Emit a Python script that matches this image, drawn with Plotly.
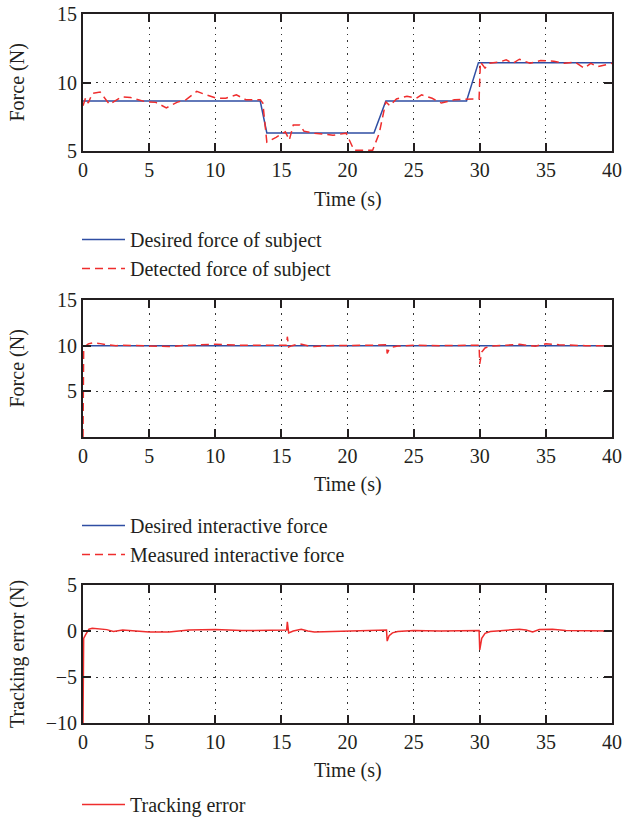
import plotly.graph_objects as go

# ---- data -------------------------------------------------------------
# Panel 1: desired vs detected force of subject
t_desired_subject = [0, 13.4, 13.9, 22.0, 22.9, 29.0, 29.9, 40]
f_desired_subject = [8.65, 8.65, 6.32, 6.32, 8.65, 8.65, 11.45, 11.45]

t_detected_subject = [0, 0.2, 0.4, 0.7, 1.3, 2.0, 2.9, 3.6, 4.7, 5.5, 6.3, 7.1, 7.8,
                      8.6, 9.3, 10.1, 10.8, 11.6, 12.3, 13.4, 13.6, 13.9, 14.6, 15.3,
                      15.6, 15.9, 16.4, 16.7, 17.5, 18.9, 19.9, 20.5, 21.9, 22.4, 22.9,
                      23.2, 23.7, 24.5, 25.2, 25.6, 26.4, 27.1, 28.1, 29.1, 29.95, 30.05,
                      30.4, 30.7, 31.5, 32.0, 32.5, 33.0, 33.8, 34.6, 35.6, 36.4, 37.2,
                      37.9, 38.4, 38.9, 39.6, 40]
f_detected_subject = [8.3, 8.9, 8.5, 9.2, 9.3, 8.4, 8.95, 8.9, 8.6, 8.55, 8.15, 8.55, 8.75,
                      9.35, 9.1, 8.85, 8.85, 9.1, 8.75, 8.75, 8.5, 5.65, 6.0, 6.4,
                      5.8, 6.9, 6.9, 6.45, 6.3, 6.15, 6.3, 5.05, 5.05, 6.3, 8.6,
                      8.3, 8.8, 9.0, 8.85, 9.1, 8.85, 8.5, 8.75, 8.75, 8.8, 11.5,
                      11.05, 11.4, 11.5, 11.65, 11.4, 11.7, 11.4, 11.6, 11.55, 11.4, 11.5,
                      11.05, 11.4, 11.15, 11.3, 11.4]

# Panel 2: desired vs measured interactive force
t_desired_inter = [0, 40]
f_desired_inter = [10, 10]

t_measured_inter = [0, 0.05, 0.15, 0.4, 0.7, 1.2, 1.8, 2.5, 3.0, 4.0, 5.0, 6.5, 8.0,
                    10.0, 12.0, 15.4, 15.45, 15.55, 15.8, 16.4, 17.0, 17.5, 18.5, 20.0,
                    22.0, 22.95, 23.0, 23.15, 23.4, 23.8, 25.0, 27.0, 29.95, 30.0, 30.15,
                    30.4, 30.8, 32.0, 33.0, 33.8, 34.2, 35.0, 36.0, 38.0, 40.0]
f_measured_inter = [0, 9.6, 9.9, 10.2, 10.3, 10.25, 10.1, 10.0, 10.05, 10.0, 9.9, 9.9, 10.05,
                    10.15, 10.05, 10.05, 10.98, 9.85, 10.0, 10.2, 10.0, 9.9, 10.0, 10.0,
                    10.05, 10.1, 9.15, 9.6, 9.85, 9.95, 10.05, 10.0, 10.05, 8.0, 9.3,
                    9.75, 9.95, 10.05, 10.15, 10.0, 9.95, 10.2, 10.1, 10.0, 10.0]

# Panel 3: tracking error
t_error = [0, 0.05, 0.2, 0.45, 0.7, 1.2, 1.8, 2.3, 3.0, 4.0, 5.0, 6.5, 8.0, 10.0, 12.0,
           15.4, 15.45, 15.55, 15.9, 16.5, 17.0, 17.5, 19.0, 21.0, 22.95, 23.0, 23.15,
           23.4, 23.8, 25.0, 27.0, 29.95, 30.0, 30.15, 30.4, 30.8, 32.0, 33.0, 33.5,
           34.0, 34.5, 35.5, 36.5, 38.0, 40.0]
e_error = [-10, -0.8, -0.4, 0.2, 0.3, 0.25, 0.15, -0.05, 0.1, 0.0, -0.1, -0.1, 0.1, 0.15, 0.05,
           0.1, 1.0, -0.2, 0.0, 0.2, 0.0, -0.1, -0.05, 0.05, 0.1, -1.1, -0.5,
           -0.2, -0.05, 0.05, 0.0, 0.05, -2.05, -0.8, -0.25, -0.05, 0.05, 0.2, 0.1,
           -0.1, 0.15, 0.2, 0.05, 0.0, 0.0]

x_ticks = [0, 5, 10, 15, 20, 25, 30, 35, 40]
y1_ticks = [5, 10, 15]
y2_ticks = [5, 10, 15]
y3_ticks = [-10, -5, 0, 5]

# ---- styling ----------------------------------------------------------
BLUE = "#2f4ea3"
RED = "#ef2d2d"
INK = "#231f20"
FONT = "Liberation Serif"
FS = 20
DASH = "8px,5px"

W, H = 623, 825
ML, MR, MT, MB = 83, 11, 14, 102
PW, PH = W - ML - MR, H - MT - MB


def py(pix):
    """paper y from a pixel row"""
    return (H - MB - pix) / PH


def px(pix):
    """paper x from a pixel column"""
    return (pix - ML) / PW


def cy(pix):
    """container y from a pixel row"""
    return 1 - pix / H


def cx(pix):
    """container x from a pixel column"""
    return pix / W


fig = go.Figure()

fig.add_trace(go.Scatter(x=t_desired_subject, y=f_desired_subject, mode="lines",
                         name="Desired force of subject", xaxis="x", yaxis="y",
                         legend="legend", line=dict(color=BLUE, width=1.5)))
fig.add_trace(go.Scatter(x=t_detected_subject, y=f_detected_subject, mode="lines",
                         name="Detected force of subject", xaxis="x", yaxis="y",
                         legend="legend", line=dict(color=RED, width=1.5, dash=DASH)))

fig.add_trace(go.Scatter(x=t_desired_inter, y=f_desired_inter, mode="lines",
                         name="Desired interactive force", xaxis="x2", yaxis="y2",
                         legend="legend2", line=dict(color=BLUE, width=1.5)))
fig.add_trace(go.Scatter(x=t_measured_inter, y=f_measured_inter, mode="lines",
                         name="Measured interactive force", xaxis="x2", yaxis="y2",
                         legend="legend2", line=dict(color=RED, width=1.5, dash=DASH)))

fig.add_trace(go.Scatter(x=t_error, y=e_error, mode="lines",
                         name="Tracking error", xaxis="x3", yaxis="y3",
                         legend="legend3", line=dict(color=RED, width=1.5)))

axis_common = dict(
    showline=True, linecolor=INK, linewidth=2, mirror="ticks",
    ticks="inside", ticklen=8, tickwidth=1.5, tickcolor=INK,
    showgrid=True, gridcolor="#333333", gridwidth=1.2, griddash="1.5px,5px",
    zeroline=False, automargin=False,
    tickfont=dict(family=FONT, size=FS, color=INK),
)

domains = [(py(151), py(14)), (py(437), py(300)), (0.0, py(585))]
y_ranges = [[5, 15], [0, 15], [-10, 5]]
y_ticks = [y1_ticks, y2_ticks, y3_ticks]

layout = dict(
    width=W, height=H,
    margin=dict(l=ML, r=MR, t=MT, b=MB, autoexpand=False),
    paper_bgcolor="white", plot_bgcolor="white",
    font=dict(family=FONT, size=FS, color=INK),
    showlegend=True,
)
for i in range(3):
    sx = "" if i == 0 else str(i + 1)
    layout["xaxis" + sx] = dict(axis_common, domain=[0, 1], range=[0, 40],
                                tickvals=x_ticks, anchor="y" + sx)
    layout["yaxis" + sx] = dict(axis_common, domain=list(domains[i]),
                                range=y_ranges[i], tickvals=y_ticks[i],
                                anchor="x" + sx)

legend_common = dict(xref="container", yref="container", x=cx(77),
                     xanchor="left", yanchor="top", bgcolor="rgba(0,0,0,0)",
                     font=dict(family=FONT, size=FS, color=INK),
                     tracegroupgap=0, itemwidth=43)
layout["legend"] = dict(legend_common, y=cy(220))
layout["legend2"] = dict(legend_common, y=cy(506))
layout["legend3"] = dict(legend_common, y=cy(785))

fig.update_layout(**layout)

# axis titles
x_title_rows = [199, 484, 771]
for row in x_title_rows:
    fig.add_annotation(text="Time (s)", xref="paper", yref="paper",
                       x=0.5, y=py(row), xanchor="center", yanchor="middle",
                       showarrow=False, font=dict(family=FONT, size=FS, color=INK))

y_titles = ["Force (N)", "Force (N)", "Tracking error (N)"]
y_title_rows = [82.5, 368.5, 654]
for txt, row in zip(y_titles, y_title_rows):
    fig.add_annotation(text=txt, xref="paper", yref="paper",
                       x=px(17), y=py(row), xanchor="center", yanchor="middle",
                       textangle=-90, showarrow=False,
                       font=dict(family=FONT, size=FS, color=INK))

fig.write_html("out.html")
